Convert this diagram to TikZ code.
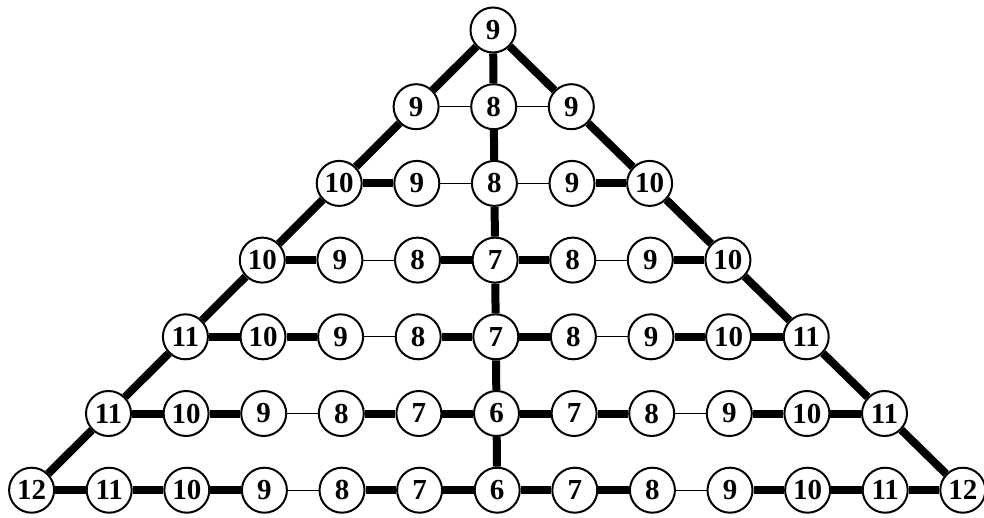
\documentclass[tikz,border=0pt]{standalone}
\usepackage{fontspec}
\setmainfont{Liberation Serif}
\usetikzlibrary{backgrounds}
\begin{document}
\begin{tikzpicture}[x=1pt,y=1pt,
  num/.style={circle,draw,line width=2pt,fill=white,minimum size=45pt,inner sep=0pt,
    font=\fontsize{29}{29}\selectfont\bfseries},
  thickedge/.style={line width=8pt},
  thinedge/.style={line width=1pt}]
\useasboundingbox (0,0) rectangle (984,517);
\foreach \r/\labs in {0/{9},1/{9,8,9},2/{10,9,8,9,10},3/{10,9,8,7,8,9,10},
  4/{11,10,9,8,7,8,9,10,11},5/{11,10,9,8,7,6,7,8,9,10,11},
  6/{12,11,10,9,8,7,6,7,8,9,10,11,12}}{
  \foreach \lab [count=\i from 0, remember=\lab as \prev (initially 0)] in \labs {
    \pgfmathsetmacro\xx{493+0.7*\r+77.6*(\i-\r)}
    \pgfmathsetmacro\yy{517-30-76.7*\r}
    \node[num] (n-\r-\i) at (\xx,\yy) {\lab};
    \ifnum\i>0
      \pgfmathtruncatemacro\j{\i-1}
      \pgfmathtruncatemacro\isthin{(\prev+\lab==17)?1:0}
      \begin{pgfonlayer}{background}
        \ifnum\isthin=1
          \draw[thinedge] (n-\r-\j) -- (n-\r-\i);
        \else
          \draw[thickedge] (n-\r-\j) -- (n-\r-\i);
        \fi
      \end{pgfonlayer}
    \fi
  }
}
\begin{pgfonlayer}{background}
\foreach \r in {1,...,6}{
  \pgfmathtruncatemacro\p{\r-1}
  \pgfmathtruncatemacro\pl{2*\r-2}
  \pgfmathtruncatemacro\rl{2*\r}
  \draw[thickedge] (n-\p-0) -- (n-\r-0);
  \draw[thickedge] (n-\p-\p) -- (n-\r-\r);
  \draw[thickedge] (n-\p-\pl) -- (n-\r-\rl);
}
\end{pgfonlayer}
\end{tikzpicture}
\end{document}
